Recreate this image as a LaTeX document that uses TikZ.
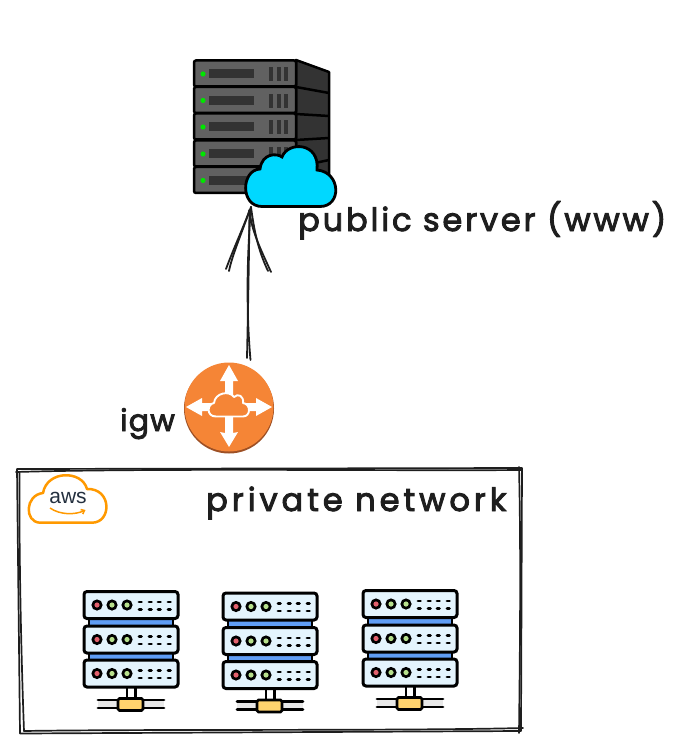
\documentclass[tikz,border=0pt]{standalone}
\usepackage{fontspec}
\setmainfont{Liberation Sans}
\newfontfamily\handfontA[LetterSpace=9,FakeBold=3]{Poppins}
\newfontfamily\handfontB[LetterSpace=12.5,FakeBold=3]{Poppins}
\newfontfamily\handfontC[LetterSpace=4,FakeBold=3]{Poppins}
\usetikzlibrary{arrows.meta}
\definecolor{ink}{HTML}{1E1E1E}
\definecolor{rackface}{HTML}{616161}
\definecolor{rackdark}{HTML}{333333}
\definecolor{cloudblue}{HTML}{00D8FF}
\definecolor{igworange}{HTML}{F58536}
\definecolor{igwshade}{HTML}{9D5025}
\definecolor{awsorange}{HTML}{FF9900}
\definecolor{awsnavy}{HTML}{232F3E}
\definecolor{unitfill}{HTML}{E4F4FD}
\definecolor{unitblue}{HTML}{5F9DF5}
\definecolor{ledred}{HTML}{E2606C}
\definecolor{ledgreen}{HTML}{B7E08C}
\definecolor{busyellow}{HTML}{FFD36E}
\definecolor{busgrey}{HTML}{E8E8E8}
\tikzset{
  x=1pt,y=-1pt,
  handtext/.style={text=ink,inner sep=0pt,anchor=base west},
  sketch/.style={draw=ink,line width=1.8pt,line cap=round},
  sketchbox/.style={draw=ink,line width=1.7pt,line cap=round},
  rackrow/.style={draw=black,line width=2.5pt,fill=rackface,rounded corners=2pt},
  rackside/.style={draw=black,line width=2.5pt,fill=rackdark,line join=round},
  rackslot/.style={fill=rackdark,draw=none},
  rackled/.style={fill=green!90!black,draw=none},
  igwarrow/.style={fill=white,draw=none},
  unit/.style={draw=black,line width=3pt,fill=unitfill,rounded corners=3pt},
  unitdot/.style={draw=black,line width=2.8pt,line cap=round},
  rack row/.pic={
    \draw[rackrow] (0,0) rectangle (102,26);
    \fill[rackled] (9,13.5) circle (2.6);
    \fill[rackslot] (15,9) rectangle (60,18);
    \fill[rackslot] (75,7) rectangle (78.5,21);
    \fill[rackslot] (83,7) rectangle (86.5,21);
    \fill[rackslot] (90,7) rectangle (94,21);
  },
  unit row/.pic={
    \draw[unit] (0,0) rectangle (94,27);
    \foreach \lx/\lc in {13/ledred,28/ledgreen,43/ledgreen}{
      \fill[black] (\lx,13.5) circle (5.6);
      \fill[\lc] (\lx,13.5) circle (2.6);
    }
    \foreach \dx in {55,65,74,84}{
      \draw[unitdot] (\dx,10.5) -- (\dx+2.5,10.5);
      \draw[unitdot] (\dx,18) -- (\dx+2.5,18);
    }
  },
  unit rack/.pic={
    \fill[unitblue] (5,27) rectangle (89,35);
    \draw[black,line width=2.6pt] (5,27) -- (5,35) (89,27) -- (89,35);
    \fill[unitblue] (5,62) rectangle (89,69);
    \draw[black,line width=2.6pt] (5,62) -- (5,69) (89,62) -- (89,69);
    \pic at (0,0) {unit row};
    \pic at (0,34.5) {unit row};
    \pic at (0,68.5) {unit row};
    \draw[black,line width=2.8pt] (43,96) -- (43,107) (51.5,96) -- (51.5,107);
    \fill[busgrey] (14,108.5) rectangle (80,116.5);
    \draw[black,line width=2.8pt,line cap=round] (14,108.5) -- (80,108.5) (14,116.5) -- (80,116.5);
    \draw[black,line width=2.8pt,fill=busyellow,rounded corners=1.5pt] (34,107) rectangle (59,119);
  },
}
\begin{document}
\begin{tikzpicture}
\useasboundingbox (0,0) rectangle (684,751);

% public server
\draw[rackside] (296,60) -- (329,72) -- (329,183) -- (296,193) -- cycle;
\draw[black,line width=2.5pt] (296,87) -- (329,93) (296,114) -- (329,116) (296,140) -- (329,138) (296,167) -- (329,160);
\pic at (194,60.5) {rack row};
\pic at (194,87) {rack row};
\pic at (194,113.5) {rack row};
\pic at (194,140.5) {rack row};
\pic at (194,167) {rack row};
\draw[black,line width=2.8pt,fill=cloudblue]
  (262,206.5) .. controls (240,206.5) and (241,170) .. (260,169)
  .. controls (262,153) and (277,153) .. (282,157)
  .. controls (288,141) and (320,142) .. (317,170)
  .. controls (341,172) and (342,206.5) .. (320,206.5) -- cycle;
\node[inner sep=0pt,minimum width=136pt,minimum height=147pt] (server) at (262,133.5) {};
\node[handtext,font=\handfontA\fontsize{32}{36}\selectfont] (serverlabel) at (298,231) {public server (www)};

% internet gateway
\fill[igwshade] (229,408.5) circle (45);
\node[circle,fill=igworange,inner sep=0pt,minimum size=89pt] (igw) at (229,407) {};
\fill[igwarrow] (229,365) -- (238,381) -- (233,381) -- (233,433) -- (238,432) -- (229,447) -- (220,432) -- (225,433) -- (225,381) -- (220,381) -- cycle;
\fill[igwarrow] (186,407) -- (202,398) -- (202,403) -- (256,403) -- (256,398) -- (272,407) -- (256,416) -- (256,411) -- (202,411) -- (202,416) -- cycle;
\draw[white,line width=1.9pt,fill=igworange,line join=round]
  (216,416.5) .. controls (206,416.5) and (207,404) .. (214,403)
  .. controls (215,393) and (229,390) .. (234,397)
  .. controls (238,393) and (244,396) .. (243,403)
  .. controls (251,404) and (251,416.5) .. (243,416.5) -- cycle;
\node[handtext,font=\handfontC\fontsize{30}{32}\selectfont] (igwlabel) at (120,431) {igw};

% connector from the gateway to the server
\coordinate (tailA) at (250.5,360);
\coordinate (tailB) at (247,358);
\coordinate (tip) at (251,207);
\coordinate (tipB) at (249.5,210);
\coordinate (barbLA) at (226,269);
\coordinate (barbLB) at (229,271);
\coordinate (barbRA) at (268,271);
\coordinate (barbRB) at (271,272);
\draw[sketch] (tailA) .. controls (247,320) and (246,270) .. (tip);
\draw[sketch] (tailB) .. controls (248,310) and (249,260) .. (tipB);
\draw[sketch] (barbLA) .. controls (233,250) and (243,228) .. (tip);
\draw[sketch] (barbLB) .. controls (232,255) and (245,225) .. (tipB);
\draw[sketch] (barbRA) .. controls (258,250) and (254,230) .. (tip);
\draw[sketch] (barbRB) .. controls (261,250) and (251,230) .. (tipB);

% private network
\coordinate (boxNW) at (17,469);
\coordinate (boxNE) at (522,468);
\coordinate (boxSE) at (521,731);
\coordinate (boxSW) at (20,733.5);
\draw[sketchbox] (boxNW) -- (boxNE) (boxNE) -- (boxSE) (boxSE) -- (boxSW) (boxSW) -- (boxNW);
\draw[sketchbox] (16,472) .. controls (150,468) and (400,471) .. (521,470);
\draw[sketchbox] (519,467) .. controls (521,550) and (520,650) .. (519,733);
\draw[sketchbox] (24,731) .. controls (150,729) and (400,731) .. (523,728);
\draw[sketchbox] (19.5,472) .. controls (19,550) and (21,650) .. (24,731);
\node[handtext,font=\handfontB\fontsize{32}{36}\selectfont] (privatelabel) at (206,511) {private network};

% aws logo
\draw[awsorange,line width=2.5pt,line join=round]
  (40,522.7) .. controls (24,522) and (25,495) .. (43,493)
  .. controls (47,470) and (82,470) .. (87,489)
  .. controls (112,488) and (112,522.7) .. (92,522.7) -- cycle;
\node[font=\fontsize{21}{21}\selectfont,text=awsnavy,inner sep=0pt] (awstext) at (68,498) {aws};
\coordinate (smileA) at (50,508);
\coordinate (smileB) at (85.5,510);
\draw[awsorange,line width=1.5pt,-{Straight Barb[length=3pt,width=5pt]}] (smileA) .. controls (60,515) and (75,515) .. (smileB);

% three private servers
\pic at (84,591.5) {unit rack};
\pic at (223,593) {unit rack};
\pic at (363,590.5) {unit rack};
\end{tikzpicture}
\end{document}
